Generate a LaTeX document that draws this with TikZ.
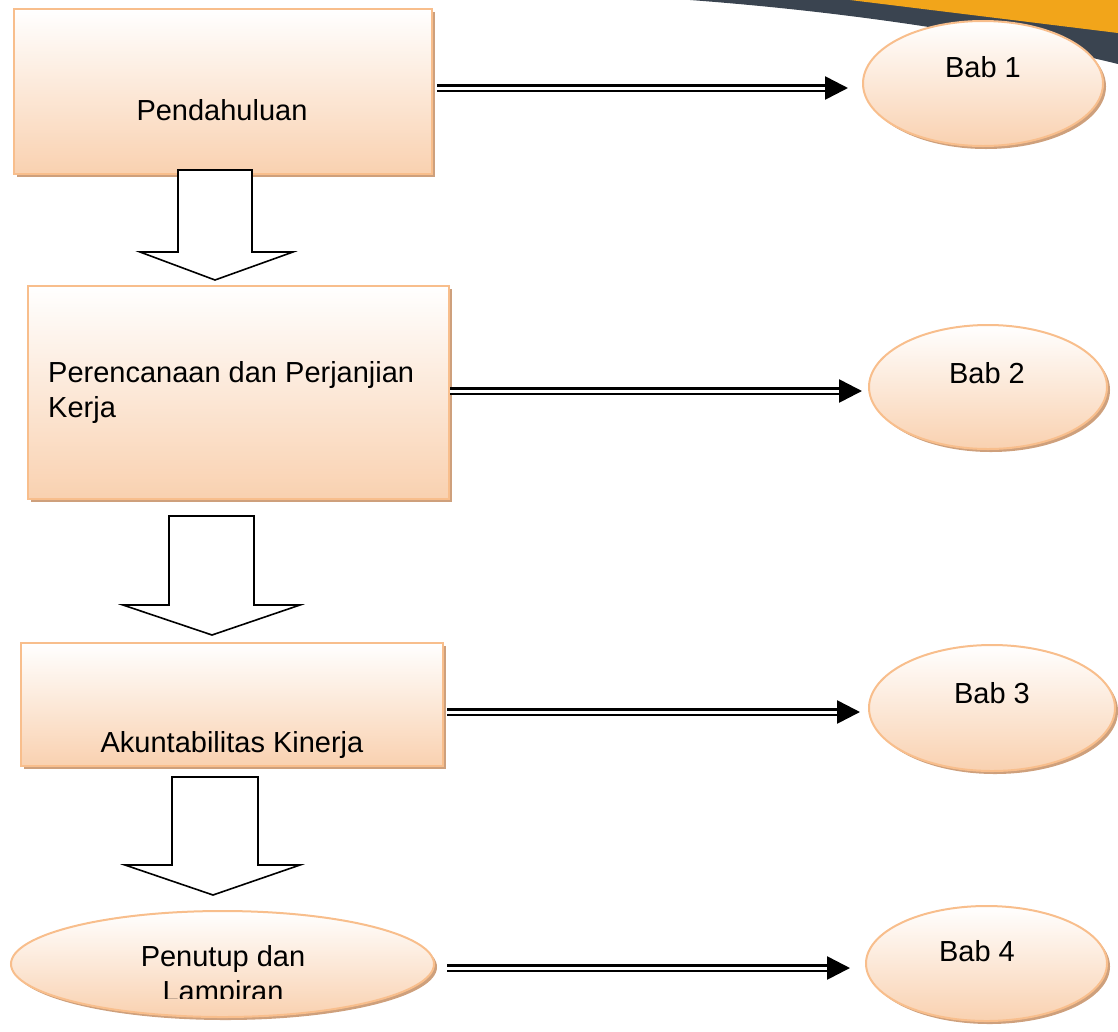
\documentclass[tikz,border=0pt]{standalone}
\usepackage{fontspec}
\setmainfont{Liberation Sans}
\usetikzlibrary{shapes.geometric,shadows,arrows.meta}
\definecolor{peach}{RGB}{249,209,176}
\definecolor{peachedge}{RGB}{248,190,140}
\definecolor{peachshadow}{RGB}{206,160,124}
\definecolor{bandgrey}{RGB}{58,68,80}
\definecolor{bandorange}{RGB}{242,165,26}
\tikzset{
  kotak/.style={rectangle, draw=peachedge, line width=2pt, top color=white, bottom color=peach,
    drop shadow={shadow xshift=3pt, shadow yshift=-3pt, opacity=1, fill=peachshadow}},
  babnode/.style={ellipse, draw=peachedge, line width=2pt, top color=white, bottom color=peach, inner sep=0pt,
    drop shadow={shadow xshift=3pt, shadow yshift=-3pt, opacity=1, fill=peachshadow}},
  teks/.style={font=\fontsize{29}{35}\selectfont, anchor=base, inner sep=0pt},
  panah/.style={double, double distance=3pt, line width=2.6pt, -{Triangle[length=23pt,width=23pt]}},
  blok/.style={draw=black, line width=1.6pt, fill=white, line join=miter},
}
\begin{document}
\begin{tikzpicture}[x=1pt, y=-1pt]
  \useasboundingbox (0,0) rectangle (1118,1031);
  % pita di pojok kanan atas
  \fill[bandgrey] (690,0) .. controls (850,12) and (1000,35) .. (1118,64) -- (1118,0) -- cycle;
  \fill[bandorange] (850,0) -- (1118,33) -- (1118,0) -- cycle;

  % bagian kiri
  \node[kotak, minimum width=418, minimum height=165] (pend) at (223,91.5) {};
  \node[kotak, minimum width=421, minimum height=213] (renc) at (238.5,392.5) {};
  \node[kotak, minimum width=422, minimum height=123] (akun) at (232,704.5) {};
  \node[babnode, minimum width=423, minimum height=106] (tutup) at (222.5,964) {};

  \node[teks] (pendtxt) at (222,120) {Pendahuluan};
  \node[teks, anchor=base west, align=left] (renctxt) at (48,417) {Perencanaan dan Perjanjian\\Kerja};
  \node[teks] (akuntxt) at (232,752) {Akuntabilitas Kinerja};
  \begin{scope}
    \clip (100,925) rectangle (350,998);
    \node[teks, align=center] (tututxt) at (223,1001) {Penutup dan\\Lampiran};
  \end{scope}

  % bab di kanan
  \node[babnode, minimum width=240, minimum height=125] (bab1) at (983,83.5) {};
  \node[babnode, minimum width=238, minimum height=124] (bab2) at (988,387) {};
  \node[babnode, minimum width=246, minimum height=126] (bab3) at (992,708) {};
  \node[babnode, minimum width=241, minimum height=115] (bab4) at (986.5,963.5) {};

  \node[teks] (bab1txt) at (983,77) {Bab 1};
  \node[teks] (bab2txt) at (987,383) {Bab 2};
  \node[teks] (bab3txt) at (992,703) {Bab 3};
  \node[teks] (bab4txt) at (977,961) {Bab 4};

  % panah ganda ke bab
  \draw[panah, shorten <=4pt, shorten >=14pt] ([yshift=3.5pt]pend.east) -- ([yshift=3.5pt]pend.east -| bab1.west);
  \draw[panah, shorten >=6pt] ([yshift=1.5pt]renc.east) -- ([yshift=1.5pt]renc.east -| bab2.west);
  \draw[panah, shorten <=3pt, shorten >=8pt] ([yshift=-7.5pt]akun.east) -- ([yshift=-7.5pt]akun.east -| bab3.west);
  \draw[panah, shorten <=12pt, shorten >=15pt] ([yshift=-4pt]tutup.east) -- ([yshift=-4pt]tutup.east -| bab4.west);

  % panah blok ke bawah
  \draw[blok] (178,170) -- (252,170) -- (252,252) -- (293,252) -- (215,280) -- (140,252) -- (178,252) -- cycle;
  \draw[blok] (169,516) -- (254,516) -- (254,605) -- (300,605) -- (212,635) -- (123,605) -- (169,605) -- cycle;
  \draw[blok] (172,777) -- (258,777) -- (258,865) -- (300,865) -- (213,895) -- (125,865) -- (172,865) -- cycle;
\end{tikzpicture}
\end{document}
